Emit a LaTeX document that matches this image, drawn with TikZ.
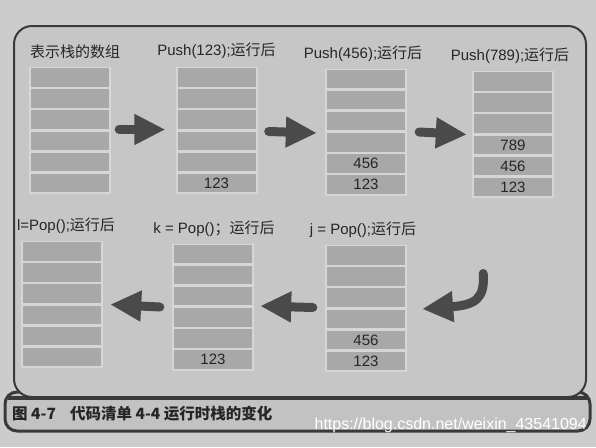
\documentclass[tikz,border=0pt]{standalone}
\usepackage{fontspec}
\setmainfont{Liberation Sans}
\newfontfamily\cjk{Noto Sans CJK SC}
\usetikzlibrary{arrows.meta,calc}
\definecolor{pagebg}{HTML}{CCCCCC}
\definecolor{panelbg}{HTML}{C6C6C6}
\definecolor{cellgray}{HTML}{A8A8A8}
\definecolor{sepgray}{HTML}{D6D6D6}
\definecolor{txt}{HTML}{262626}
\definecolor{arrowgray}{HTML}{4A4A4A}
\definecolor{framec}{HTML}{3A3A3A}
\definecolor{capbg}{HTML}{C2C2C2}
\newcommand\drawstack[4]{%
  \node[stackbox] (#1) at (#2,#3) {};
  \foreach \v [count=\i] in {#4} {
    \node[cellbox] (#1-\i) at ($(#1.north)+(0,{(\i-0.5)*21.17})$) {\v};
  }%
}
\begin{document}
\begin{tikzpicture}[x=1pt,y=-1pt,
  cellbox/.style={fill=cellgray, minimum width=78pt, minimum height=18.5pt, inner sep=0pt, font=\fontsize{15}{15}\selectfont, text=txt},
  stackbox/.style={fill=sepgray, minimum width=82pt, minimum height=127pt, inner sep=0pt},
  lbl/.style={font=\fontsize{15}{17}\selectfont, text=txt, inner sep=0pt},
  blockarrow/.style={draw=arrowgray, line width=9pt, line cap=round, -{Triangle[length=31pt,width=29pt]}},
]
\useasboundingbox (0,0) rectangle (596,447);
\fill[pagebg] (0,0) rectangle (596,447);
% caption box
\draw[framec, line width=3pt, fill=capbg, rounded corners=12pt] (5,392) rectangle (590,431);
% main panel
\draw[framec, line width=2pt, fill=panelbg, rounded corners=18pt] (14,26) rectangle (586,397);
\draw[framec, line width=4.5pt] (8,398) -- (588,398);
% stacks
\drawstack{s1}{70}{130.5}{{},{},{},{},{},{}}
\drawstack{s2}{216.5}{130.5}{{},{},{},{},{},123}
\drawstack{s3}{366}{132}{{},{},{},{},456,123}
\drawstack{s4}{513}{134.5}{{},{},{},789,456,123}
\drawstack{s5}{62}{304.5}{{},{},{},{},{},{}}
\drawstack{s6}{213}{307}{{},{},{},{},{},123}
\drawstack{s7}{366}{308.5}{{},{},{},{},456,123}
% labels
\node[lbl] (l1) at ($(s1.north)+(5,-15)$) {\cjk 表示栈的数组};
\node[lbl] (l2) at ($(s2.north)+(0,-16)$) {Push(123);{\cjk 运行后}};
\node[lbl] (l3) at ($(s3.north)+(-3,-15)$) {Push(456);{\cjk 运行后}};
\node[lbl] (l4) at ($(s4.north)+(-3,-15)$) {Push(789);{\cjk 运行后}};
\node[lbl] (l5) at ($(s5.north)+(4,-15)$) {l=Pop();{\cjk 运行后}};
\node[lbl] (l6) at ($(s6.north)+(1,-15)$) {k = Pop(){\cjk ；运行后}};
\node[lbl] (l7) at ($(s7.north)+(-3,-15)$) {j = Pop();{\cjk 运行后}};
% arrows row 1
\draw[blockarrow] ($(s1.east)+(8,-1)$) -- ($(s2.west)+(-10,-1)$);
\draw[blockarrow] ($(s2.east)+(11,1)$) -- ($(s3.west)+(-8,1)$);
\draw[blockarrow] ($(s3.east)+(12,0)$) -- ($(s4.west)+(-5,0)$);
% arrows row 2
\draw[blockarrow] ($(s6.west)+(-12,0)$) -- ($(s5.east)+(7,0)$);
\draw[blockarrow] ($(s7.west)+(-12,-1)$) -- ($(s6.east)+(6,-1)$);
\coordinate (c1) at ($(s7.east)+(76,-35)$);
\coordinate (c2) at ($(s7.east)+(15,0.5)$);
\draw[blockarrow] (c1) .. controls ($(c1)+(2,26)$) and ($(c2)+(52,-4)$) .. (c2);
% caption
\node[anchor=west, inner sep=0pt, text=txt, font=\cjk\bfseries\fontsize{15.5}{17}\selectfont] (cap) at (12,414) {图 4-7\hspace{14pt}代码清单 4-4 运行时栈的变化};
% watermark
\node[anchor=east, inner sep=0pt, text=white, font=\fontsize{16}{18}\selectfont] (wm) at (587,425) {https://blog.csdn.net/weixin\_43541094};
\end{tikzpicture}
\end{document}
